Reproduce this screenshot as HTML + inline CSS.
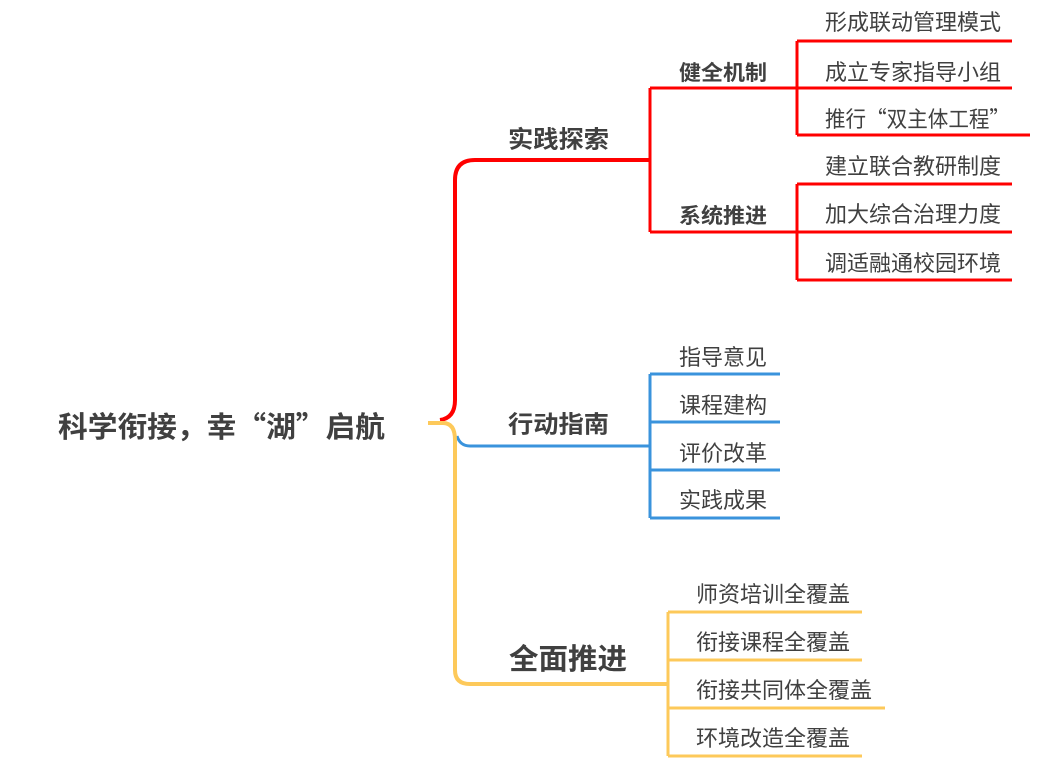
<!DOCTYPE html>
<html><head><meta charset="utf-8"><style>
html,body{margin:0;padding:0;background:#fff;}
svg{display:block;}
text{font-family:"Noto Sans CJK SC","Liberation Sans",sans-serif;fill:#404040;dominant-baseline:central;}
.b{font-weight:bold;}
</style></head><body>
<svg width="1051" height="766" viewBox="0 0 1051 766" xmlns="http://www.w3.org/2000/svg">
<g fill="none" stroke-linecap="butt">
<path d="M440 420 Q455 418 455 400 L455 180 Q455 160 475 160 L650 160" stroke="#f00" stroke-width="4"/>
<path d="M650 88 L650 232 M650 88 L797 88 M650 232 L797 232" stroke="#f00" stroke-width="3"/>
<path d="M797 41 L797 135 M797 41 L1012 41 M797 88 L1012 88 M797 135 L1030 135" stroke="#f00" stroke-width="3"/>
<path d="M797 184 L797 280 M797 184 L1012 184 M797 232 L1012 232 M797 280 L1012 280" stroke="#f00" stroke-width="3"/>
<path d="M457 436 Q460 446 470 446 L650 446" stroke="#3a93dc" stroke-width="3"/>
<path d="M650 374 L650 518 M650 374 L780 374 M650 422 L780 422 M650 470 L780 470 M650 518 L780 518" stroke="#3a93dc" stroke-width="3"/>
<path d="M428 423 L443 423 Q455 423 455 440 L455 670 Q455 684 470 684 L668 684" stroke="#fdc95a" stroke-width="4"/>
<path d="M668 612 L668 756 M668 612 L862 612 M668 660 L862 660 M668 708 L885 708 M668 756 L862 756" stroke="#fdc95a" stroke-width="3"/>
</g>
<text class="b" x="58" y="425" font-size="29" textLength="327" lengthAdjust="spacingAndGlyphs">科学衔接，幸“湖”启航</text>
<text class="b" x="508" y="137" font-size="24" textLength="101" lengthAdjust="spacingAndGlyphs">实践探索</text>
<text class="b" x="508" y="422" font-size="24" textLength="101" lengthAdjust="spacingAndGlyphs">行动指南</text>
<text class="b" x="509" y="657" font-size="29" textLength="118" lengthAdjust="spacingAndGlyphs">全面推进</text>
<text class="b" x="679" y="72" font-size="21" textLength="88" lengthAdjust="spacingAndGlyphs">健全机制</text>
<text class="b" x="679" y="215" font-size="21" textLength="88" lengthAdjust="spacingAndGlyphs">系统推进</text>
<g font-size="22">
<text x="825" y="21" textLength="176" lengthAdjust="spacingAndGlyphs">形成联动管理模式</text>
<text x="825" y="71" textLength="176" lengthAdjust="spacingAndGlyphs">成立专家指导小组</text>
<text x="825" y="118" textLength="185" lengthAdjust="spacingAndGlyphs">推行“双主体工程”</text>
<text x="825" y="165" textLength="176" lengthAdjust="spacingAndGlyphs">建立联合教研制度</text>
<text x="825" y="213" textLength="176" lengthAdjust="spacingAndGlyphs">加大综合治理力度</text>
<text x="825" y="262" textLength="176" lengthAdjust="spacingAndGlyphs">调适融通校园环境</text>
<text x="679" y="356" textLength="88" lengthAdjust="spacingAndGlyphs">指导意见</text>
<text x="679" y="404" textLength="88" lengthAdjust="spacingAndGlyphs">课程建构</text>
<text x="679" y="452" textLength="88" lengthAdjust="spacingAndGlyphs">评价改革</text>
<text x="679" y="499" textLength="88" lengthAdjust="spacingAndGlyphs">实践成果</text>
<text x="696" y="593" textLength="154" lengthAdjust="spacingAndGlyphs">师资培训全覆盖</text>
<text x="696" y="641" textLength="154" lengthAdjust="spacingAndGlyphs">衔接课程全覆盖</text>
<text x="696" y="689" textLength="176" lengthAdjust="spacingAndGlyphs">衔接共同体全覆盖</text>
<text x="696" y="737" textLength="154" lengthAdjust="spacingAndGlyphs">环境改造全覆盖</text>
</g>
</svg>
</body></html>
